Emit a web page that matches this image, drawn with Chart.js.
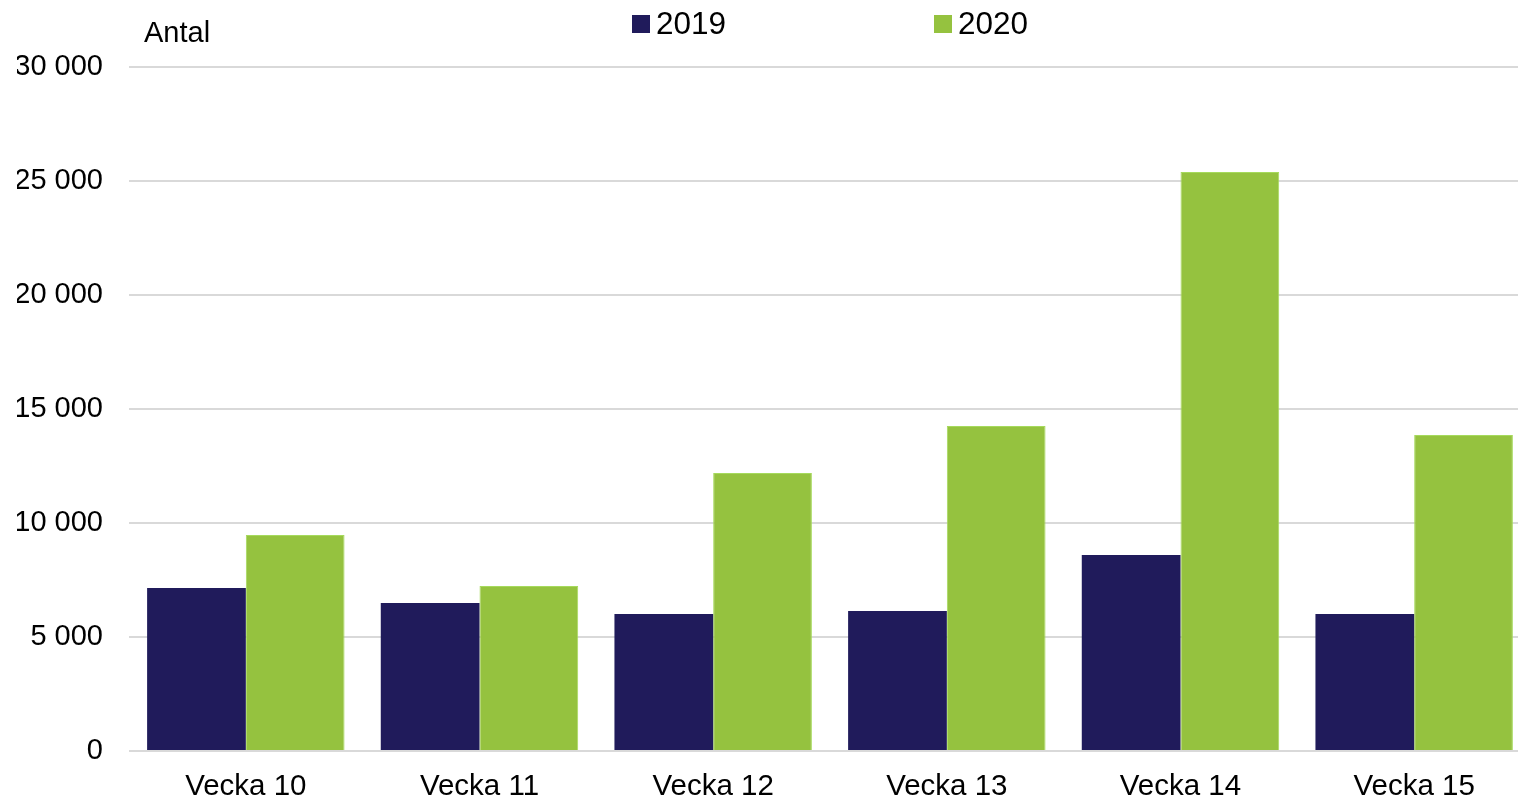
<!DOCTYPE html>
<html>
<head>
<meta charset="utf-8">
<script src="https://cdn.jsdelivr.net/npm/chart.js@4"></script>
<style>
    html, body { margin: 0; padding: 0; background: #fff; overflow: hidden; }
    #wrap { position: absolute; left: 0; top: 0; width: 1532px; height: 801px; }
</style>
</head>
<body>
<div id="wrap"><canvas id="weekChart"></canvas></div>
<script>
const weeks = ["Vecka 10", "Vecka 11", "Vecka 12", "Vecka 13", "Vecka 14", "Vecka 15"];
const values2019 = [7150, 6490, 6010, 6140, 8600, 6010];
const values2020 = [9470, 7240, 12190, 14250, 25390, 13860];
const seriesNames = ["2019", "2020"];
const yTicks = [0, 5000, 10000, 15000, 20000, 25000, 30000];

const FONT = "'Liberation Sans', Arial, sans-serif";

function formatNumber(v) {
    return v.toString().replace(/\B(?=(\d{3})+(?!\d))/g, " ");
}

// legend + "Antal" label drawn on top of the canvas
const headerPlugin = {
    id: "header",
    afterDraw(chart) {
        const ctx = chart.ctx;
        ctx.save();
        ctx.textBaseline = "middle";
        ctx.textAlign = "left";
        ctx.fillStyle = "#000";
        ctx.font = "29px " + FONT;
        ctx.fillText("Antal", 144, 34);

        const legendX = [632, 934];
        ctx.font = "31.5px " + FONT;
        chart.data.datasets.forEach((ds, i) => {
            ctx.fillStyle = ds.backgroundColor;
            ctx.fillRect(legendX[i], 15, 18, 18);
            ctx.fillStyle = "#000";
            ctx.fillText(ds.label, legendX[i] + 24, 25);
        });
        ctx.restore();
    }
};

const ctx = document.getElementById("weekChart").getContext("2d");

new Chart(ctx, {
    type: "bar",
    data: {
        labels: weeks,
        datasets: [
            {
                label: seriesNames[0],
                data: values2019,
                backgroundColor: "#201b5b",
                borderWidth: 0
            },
            {
                label: seriesNames[1],
                data: values2020,
                backgroundColor: "#95c23f",
                borderColor: "#a6da5c",
                borderWidth: 1
            }
        ]
    },
    options: {
        responsive: true,
        maintainAspectRatio: false,
        animation: false,
        layout: { padding: { top: 67, left: 17, right: 1, bottom: 0 } },
        datasets: {
            bar: { categoryPercentage: 0.845, barPercentage: 1.0 }
        },
        plugins: {
            legend: { display: false },
            tooltip: { enabled: false }
        },
        scales: {
            x: {
                grid: { display: false, drawTicks: false },
                border: { display: false },
                afterFit: axis => { axis.height = 50; },
                ticks: {
                    color: "#000",
                    padding: 21,
                    font: { family: FONT, size: 29.5, lineHeight: 1 }
                }
            },
            y: {
                min: 0,
                max: 30000,
                afterBuildTicks: axis => { axis.ticks = yTicks.map(v => ({ value: v })); },
                afterFit: axis => { axis.width = 112; },
                grid: { color: "#d9d9d9", lineWidth: 2, drawTicks: false },
                border: { display: false },
                ticks: {
                    color: "#000",
                    padding: 26,
                    font: { family: FONT, size: 29, lineHeight: 1 },
                    callback: v => formatNumber(v)
                }
            }
        }
    },
    plugins: [headerPlugin]
});
</script>
</body>
</html>
